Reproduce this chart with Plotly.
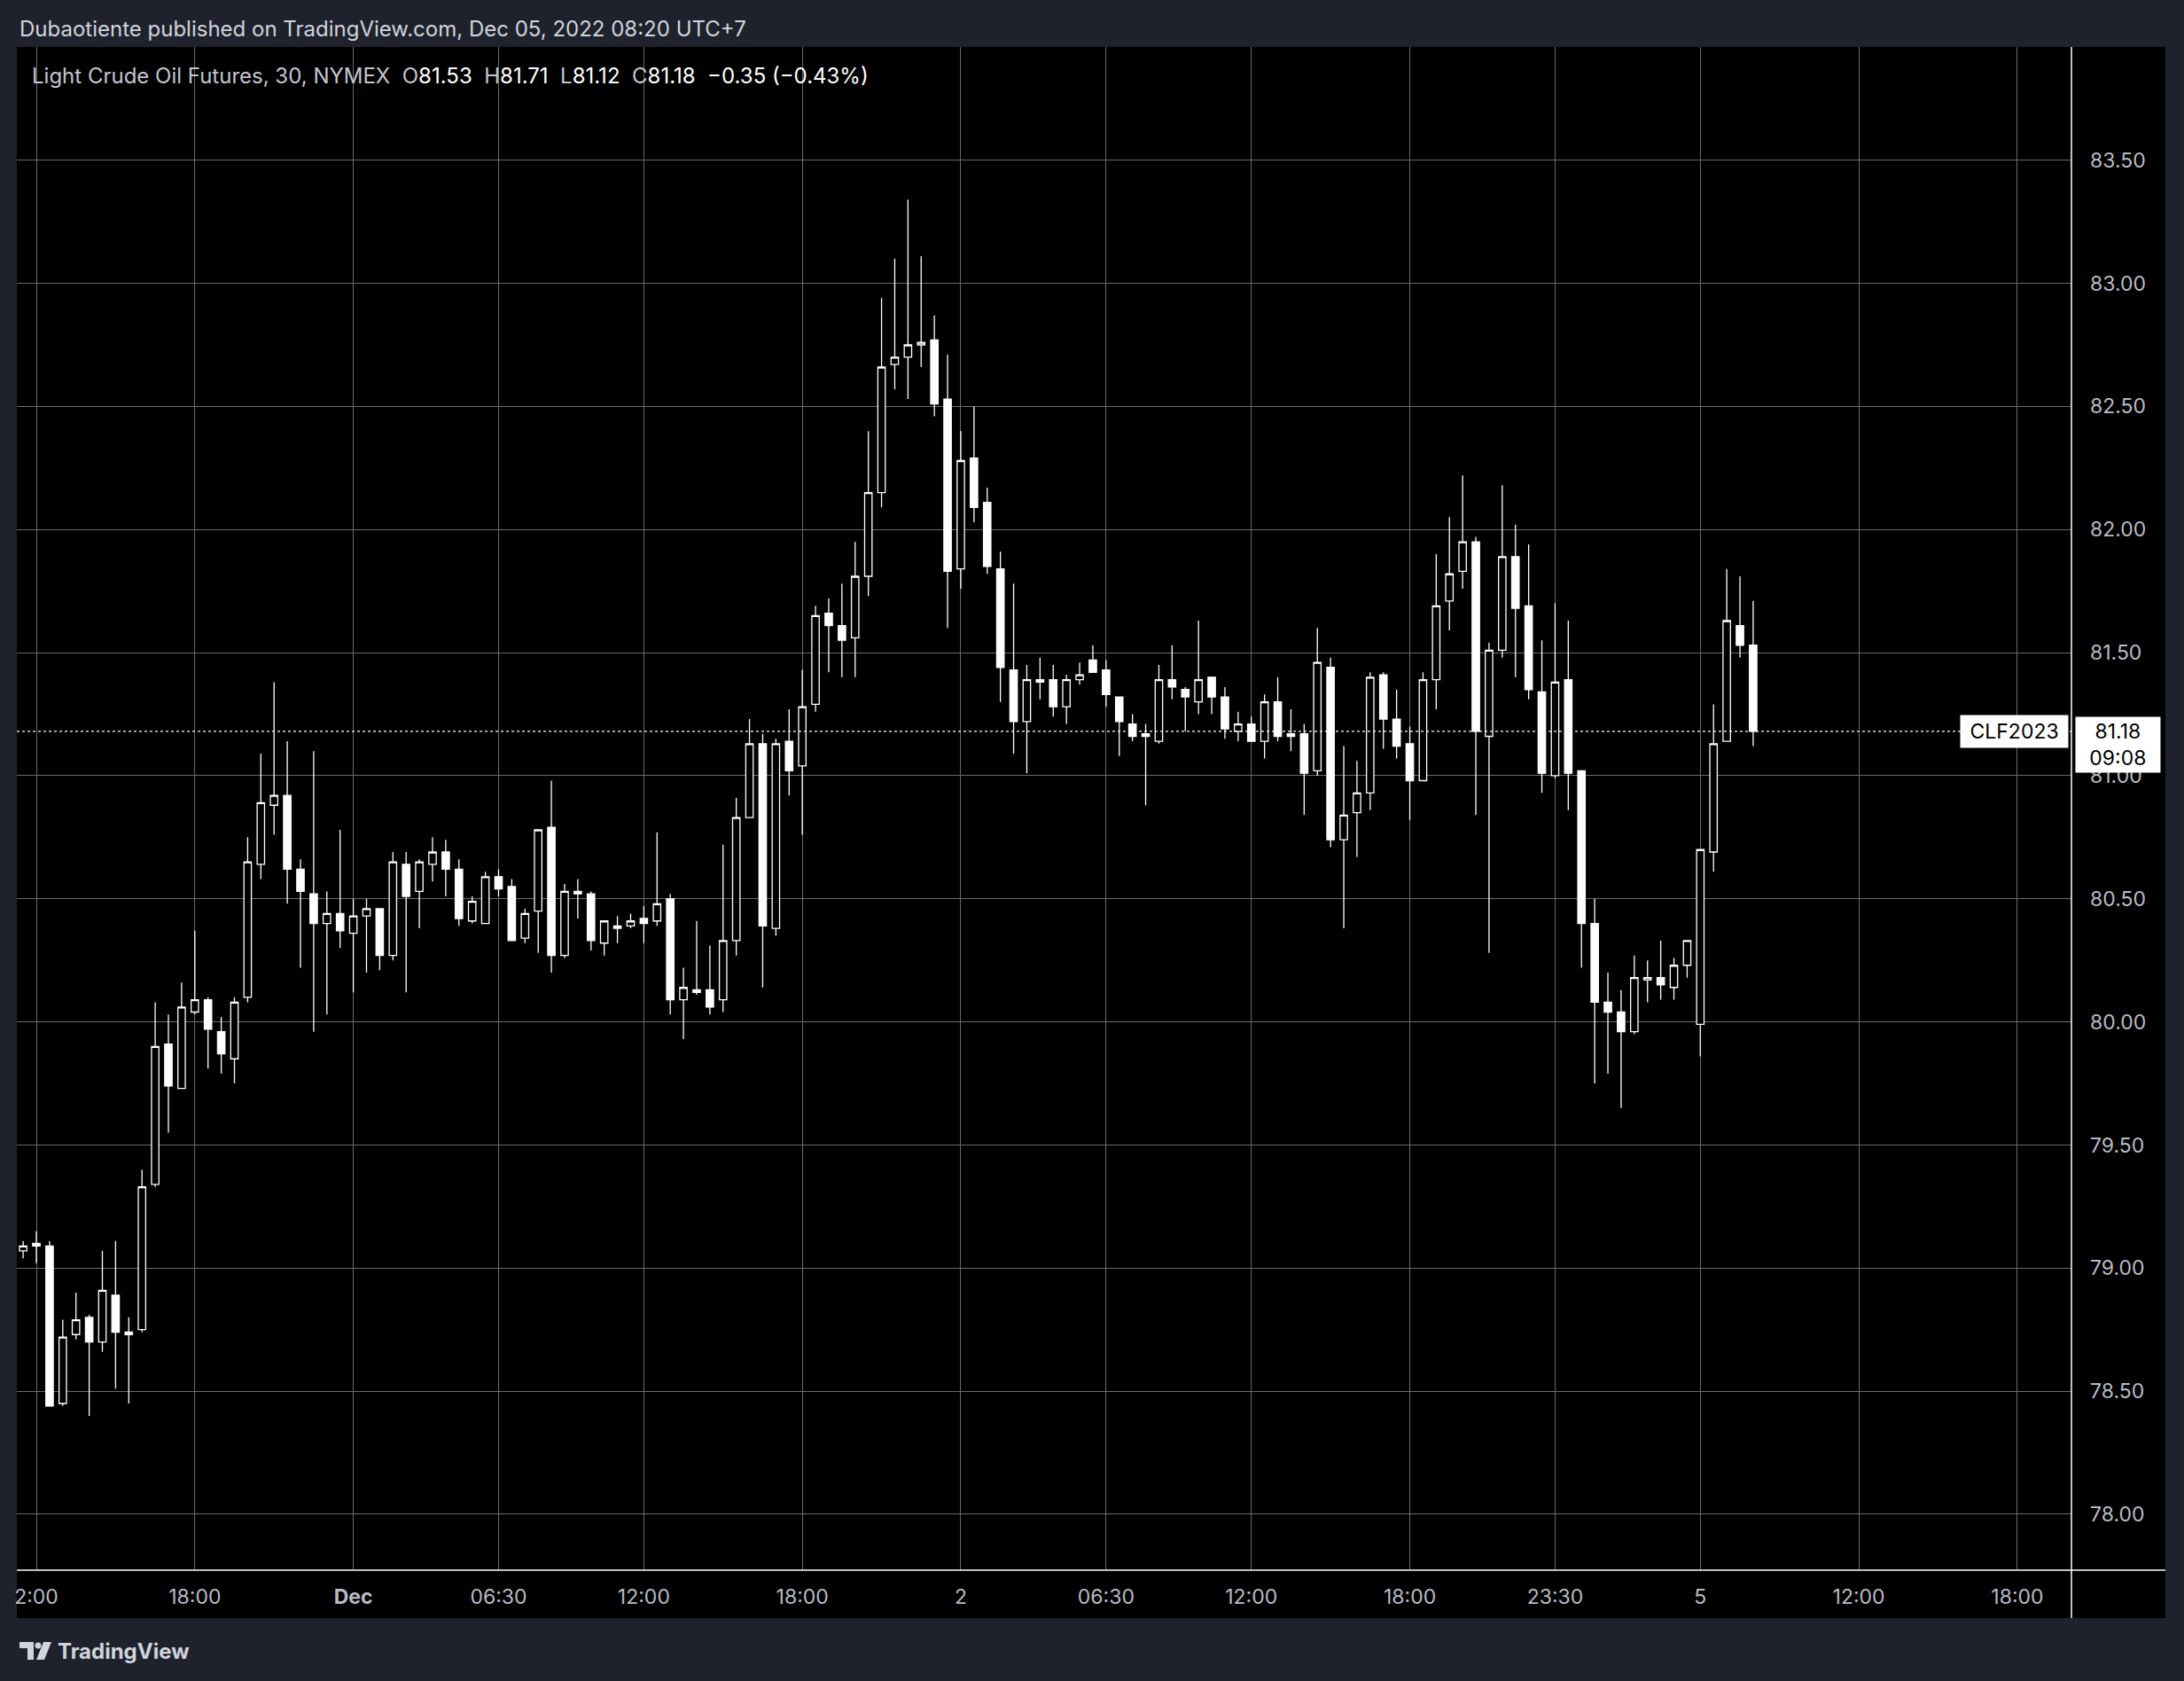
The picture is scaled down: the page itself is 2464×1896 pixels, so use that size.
import plotly.graph_objects as go
import pandas as pd

# ---------------- data ----------------
opens = [79.07, 79.10, 79.09, 78.45, 78.73, 78.80, 78.70, 78.89, 78.74, 78.75,
         79.34, 79.91, 79.73, 80.04, 80.09, 79.96, 79.85, 80.10, 80.64, 80.88,
         80.92, 80.62, 80.52, 80.40, 80.44, 80.36, 80.43, 80.46, 80.27, 80.64,
         80.53, 80.64, 80.69, 80.62, 80.41, 80.40, 80.59, 80.55, 80.34, 80.45,
         80.79, 80.27, 80.53, 80.52, 80.32, 80.39, 80.39, 80.42, 80.41, 80.50,
         80.09, 80.13, 80.13, 80.09, 80.33, 80.83, 81.13, 80.38, 81.14, 81.04,
         81.29, 81.66, 81.61, 81.56, 81.81, 82.15, 82.67, 82.70, 82.75, 82.77,
         82.53, 81.84, 82.29, 82.11, 81.84, 81.43, 81.22, 81.39, 81.39, 81.28,
         81.39, 81.47, 81.43, 81.32, 81.21, 81.17, 81.14, 81.39, 81.35, 81.30,
         81.40, 81.32, 81.18, 81.21, 81.14, 81.30, 81.17, 81.17, 81.02, 81.44,
         80.74, 80.85, 80.93, 81.41, 81.23, 81.13, 80.98, 81.39, 81.71, 81.83,
         81.95, 81.16, 81.51, 81.89, 81.69, 81.34, 81.00, 81.39, 81.02, 80.40,
         80.08, 80.04, 79.96, 80.17, 80.18, 80.14, 80.23, 79.99, 80.69, 81.14,
         81.61, 81.53]
highs = [79.11, 79.15, 79.11, 78.79, 78.90, 78.81, 79.07, 79.11, 78.80, 79.40,
         80.08, 80.03, 80.16, 80.37, 80.10, 80.02, 80.10, 80.75, 81.09, 81.38,
         81.14, 80.66, 81.10, 80.53, 80.78, 80.50, 80.50, 80.46, 80.69, 80.69,
         80.66, 80.75, 80.74, 80.66, 80.51, 80.61, 80.62, 80.58, 80.46, 80.78,
         80.98, 80.56, 80.58, 80.53, 80.41, 80.43, 80.44, 80.47, 80.77, 80.52,
         80.22, 80.41, 80.31, 80.72, 80.91, 81.23, 81.17, 81.15, 81.27, 81.43,
         81.69, 81.72, 81.78, 81.95, 82.40, 82.94, 83.10, 83.34, 83.11, 82.87,
         82.71, 82.40, 82.50, 82.17, 81.91, 81.78, 81.45, 81.48, 81.45, 81.41,
         81.46, 81.53, 81.47, 81.32, 81.25, 81.21, 81.45, 81.53, 81.36, 81.63,
         81.40, 81.36, 81.26, 81.24, 81.33, 81.40, 81.27, 81.21, 81.60, 81.48,
         81.12, 81.06, 81.42, 81.42, 81.35, 81.20, 81.42, 81.90, 82.05, 82.22,
         81.97, 81.54, 82.18, 82.02, 81.94, 81.55, 81.70, 81.63, 81.02, 80.50,
         80.20, 80.13, 80.27, 80.25, 80.33, 80.26, 80.33, 80.70, 81.29, 81.84,
         81.81, 81.71]
lows = [79.04, 79.02, 78.44, 78.44, 78.71, 78.40, 78.66, 78.51, 78.45, 78.74,
        79.33, 79.55, 79.73, 80.03, 79.81, 79.79, 79.75, 80.08, 80.58, 80.76,
        80.48, 80.22, 79.96, 80.03, 80.30, 80.12, 80.20, 80.21, 80.25, 80.12,
        80.38, 80.57, 80.51, 80.39, 80.40, 80.40, 80.51, 80.33, 80.32, 80.28,
        80.20, 80.26, 80.42, 80.29, 80.27, 80.32, 80.38, 80.32, 80.39, 80.03,
        79.93, 80.11, 80.03, 80.04, 80.27, 80.83, 80.14, 80.35, 80.92, 80.76,
        81.26, 81.42, 81.40, 81.40, 81.73, 82.09, 82.57, 82.53, 82.66, 82.46,
        81.60, 81.76, 82.03, 81.82, 81.30, 81.09, 81.01, 81.31, 81.24, 81.21,
        81.37, 81.42, 81.28, 81.08, 81.14, 80.88, 81.13, 81.31, 81.18, 81.25,
        81.25, 81.15, 81.14, 81.14, 81.07, 81.14, 81.10, 80.84, 81.00, 80.71,
        80.38, 80.67, 80.86, 81.11, 81.07, 80.82, 80.98, 81.27, 81.59, 81.76,
        80.84, 80.28, 81.48, 81.40, 81.31, 80.93, 80.99, 80.86, 80.22, 79.75,
        79.79, 79.65, 79.95, 80.08, 80.09, 80.09, 80.18, 79.86, 80.61, 81.14,
        81.48, 81.12]
closes = [79.09, 79.09, 78.44, 78.72, 78.79, 78.70, 78.91, 78.74, 78.73, 79.33,
          79.90, 79.74, 80.06, 80.09, 79.97, 79.87, 80.08, 80.65, 80.89, 80.92,
          80.62, 80.53, 80.40, 80.44, 80.37, 80.43, 80.46, 80.27, 80.65, 80.51,
          80.65, 80.69, 80.62, 80.42, 80.49, 80.59, 80.54, 80.33, 80.44, 80.78,
          80.27, 80.53, 80.52, 80.33, 80.41, 80.38, 80.41, 80.40, 80.48, 80.09,
          80.14, 80.12, 80.06, 80.33, 80.83, 81.13, 80.39, 81.13, 81.02, 81.28,
          81.65, 81.61, 81.55, 81.81, 82.15, 82.66, 82.70, 82.75, 82.76, 82.51,
          81.83, 82.28, 82.09, 81.85, 81.44, 81.22, 81.39, 81.38, 81.28, 81.39,
          81.41, 81.42, 81.33, 81.22, 81.16, 81.16, 81.39, 81.36, 81.32, 81.39,
          81.32, 81.19, 81.21, 81.14, 81.30, 81.16, 81.16, 81.01, 81.46, 80.74,
          80.84, 80.93, 81.40, 81.23, 81.12, 80.98, 81.39, 81.69, 81.82, 81.95,
          81.18, 81.51, 81.89, 81.68, 81.35, 81.01, 81.38, 81.01, 80.40, 80.08,
          80.04, 79.96, 80.18, 80.18, 80.15, 80.23, 80.33, 80.70, 81.13, 81.63,
          81.53, 81.18]

# time-axis tick labels (bar index where each label sits) - includes future slots
tick_bar = [1, 13, 25, 36, 47, 59, 71, 82, 93, 105, 116, 127, 139, 151]
tick_text = ["2:00", "18:00", "<b>Dec</b>", "06:30", "12:00", "18:00", "2",
             "06:30", "12:00", "18:00", "23:30", "5", "12:00", "18:00"]

price_ticks = [78.0, 78.5, 79.0, 79.5, 80.0, 80.5, 81.0, 81.5, 82.0, 82.5, 83.0, 83.5]

# 30-minute bar timestamps (UTC+7), NYMEX session: daily break 05:00-06:00, weekend closed
all_slots = pd.date_range("2022-11-30 11:30", "2022-12-05 08:00", freq="30min")
bar_time = [t for t in all_slots
            if t.hour != 5
            and not (t.dayofweek == 5 and t.hour >= 5)
            and t.dayofweek != 6
            and not (t.dayofweek == 0 and t.hour < 6 and t.day == 5)]
bar_time = bar_time[:len(opens)]
bar_idx = list(range(len(opens)))

# ---------------- geometry ----------------
W, H = 2464, 1896
L, R = 19, 2337          # plot area x (px)
T, B = 53, 1771          # plot area y (px)
PW, PH = R - L, B - T


def px(xp):
    return (xp - L) / PW


def py(yp):
    return (B - yp) / PH


FONT = "Inter, Roboto, sans-serif"
GRID = "#6a6a6a"
AXTXT = "#b8bbc4"

fig = go.Figure()
fig.add_trace(go.Candlestick(
    x=bar_idx, open=opens, high=highs, low=lows, close=closes,
    increasing=dict(line=dict(color="#ffffff", width=1.3), fillcolor="#000000"),
    decreasing=dict(line=dict(color="#ffffff", width=1.3), fillcolor="#ffffff"),
    text=[t.strftime("%b %d %H:%M") for t in bar_time],
    hoverinfo="text+y",
    showlegend=False,
))

shapes = [
    # black chart pane (plot + axes)
    dict(type="rect", xref="paper", yref="paper", x0=px(19), x1=px(2443), y0=py(1825), y1=py(53),
         fillcolor="#000000", line=dict(width=0), layer="below"),
    # pane separators
    dict(type="line", xref="paper", yref="paper", x0=px(R), x1=px(R), y0=py(1825), y1=py(53),
         line=dict(color="#ffffff", width=1.5)),
    dict(type="line", xref="paper", yref="paper", x0=px(19), x1=px(2443), y0=py(B), y1=py(B),
         line=dict(color="#ffffff", width=1.5)),
    # last price dotted line
    dict(type="line", xref="paper", yref="y", x0=0, x1=1, y0=closes[-1], y1=closes[-1],
         line=dict(color="#ffffff", width=1.2, dash="dot")),
    # TradingView logo
    dict(type="path", xref="paper", yref="paper",
         path=f"M {px(22)},{py(1852)} L {px(38)},{py(1852)} L {px(38)},{py(1872)} L {px(31)},{py(1872)} "
              f"L {px(31)},{py(1859)} L {px(22)},{py(1859)} Z",
         fillcolor="#d1d4dc", line=dict(width=0)),
    dict(type="circle", xref="paper", yref="paper", x0=px(39.5), x1=px(46.5), y0=py(1859.5), y1=py(1852.5),
         fillcolor="#d1d4dc", line=dict(width=0)),
    dict(type="path", xref="paper", yref="paper",
         path=f"M {px(49)},{py(1852)} L {px(58)},{py(1852)} L {px(50)},{py(1872)} L {px(41)},{py(1872)} Z",
         fillcolor="#d1d4dc", line=dict(width=0)),
]

chg = closes[-1] - closes[-2]
annotations = [
    dict(xref="paper", yref="paper", x=px(20), y=py(32), xanchor="left", yanchor="middle",
         text="Dubaotiente published on TradingView.com, Dec 05, 2022 08:20 UTC+7",
         showarrow=False, font=dict(family=FONT, size=24, color="#d1d4dc")),
    dict(xref="paper", yref="paper", x=px(34), y=py(86), xanchor="left", yanchor="middle",
         text=("<span style='color:#c3c6ce'>Light Crude Oil Futures, 30, NYMEX</span>&nbsp;&nbsp;"
               f"<span style='color:#c3c6ce'>O</span>{opens[-1]:.2f}&nbsp;&nbsp;"
               f"<span style='color:#c3c6ce'>H</span>{highs[-1]:.2f}&nbsp;&nbsp;"
               f"<span style='color:#c3c6ce'>L</span>{lows[-1]:.2f}&nbsp;&nbsp;"
               f"<span style='color:#c3c6ce'>C</span>{closes[-1]:.2f}&nbsp;&nbsp;"
               f"−{abs(chg):.2f} (−{abs(chg)/closes[-2]*100:.2f}%)"),
         showarrow=False, font=dict(family=FONT, size=24, color="#ffffff")),
    dict(xref="paper", yref="paper", x=px(63), y=py(1862), xanchor="left", yanchor="middle",
         text="<b>TradingView</b>", showarrow=False,
         font=dict(family=FONT, size=24, color="#d1d4dc")),
    dict(xref="paper", yref="y", x=px(2334), y=closes[-1], xanchor="right", yanchor="middle",
         text="&nbsp;CLF2023&nbsp;", showarrow=False, bgcolor="#ffffff", borderpad=4,
         font=dict(family=FONT, size=23, color="#000000")),
    dict(xref="paper", yref="y", x=px(2341), y=closes[-1], xanchor="left", yanchor="top",
         yshift=17, align="center",
         text=f"&nbsp;&nbsp;&nbsp;{closes[-1]:.2f}&nbsp;&nbsp;&nbsp;<br>09:08", showarrow=False,
         bgcolor="#ffffff", borderpad=2,
         font=dict(family=FONT, size=23, color="#000000")),
]

fig.update_layout(
    width=W, height=H,
    margin=dict(l=L, r=W - R, t=T, b=H - B, pad=0),
    paper_bgcolor="#1f222d",
    plot_bgcolor="#000000",
    boxgap=0.2,
    showlegend=False,
    shapes=shapes,
    annotations=annotations,
    xaxis=dict(
        range=[-0.477, 155.1], rangeslider=dict(visible=False),
        tickmode="array", tickvals=tick_bar, ticktext=tick_text,
        showgrid=True, gridcolor=GRID, gridwidth=1, zeroline=False,
        showline=False, ticks="", ticklabelstandoff=14,
        tickfont=dict(family=FONT, size=23, color=AXTXT),
    ),
    yaxis=dict(
        range=[77.773, 83.960], side="right",
        tickmode="array", tickvals=price_ticks,
        ticktext=[f"{v:.2f}" for v in price_ticks],
        showgrid=True, gridcolor=GRID, gridwidth=1, zeroline=False,
        showline=False, ticks="", ticklabelstandoff=20,
        tickfont=dict(family=FONT, size=23, color=AXTXT),
    ),
)

fig.write_html("out.html", config={"displayModeBar": False},
               post_script="document.body.style.margin='0';")
